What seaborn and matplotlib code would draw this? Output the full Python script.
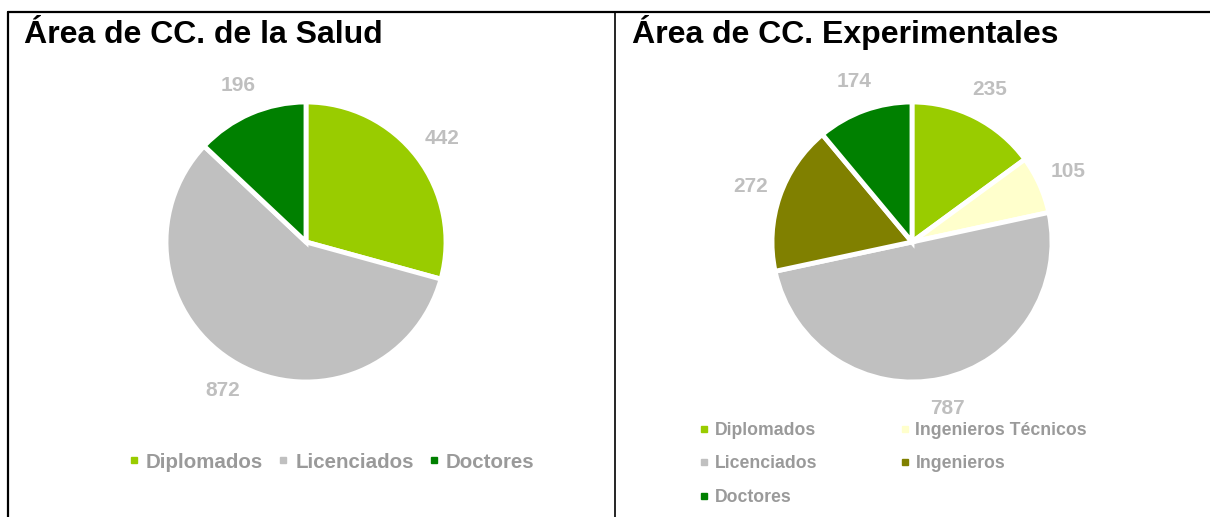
import matplotlib.pyplot as plt
import seaborn as sns
from matplotlib.lines import Line2D

# data
salud_labels = ['Diplomados', 'Licenciados', 'Doctores']
salud_values = [442, 872, 196]
salud_colors = ['#99CC00', '#C0C0C0', '#008000']

exp_labels = ['Diplomados', 'Ingenieros Técnicos', 'Licenciados', 'Ingenieros', 'Doctores']
exp_values = [235, 105, 787, 272, 174]
exp_colors = ['#99CC00', '#FFFFCC', '#C0C0C0', '#808000', '#008000']

sns.set_theme(style='white')
plt.rcParams['font.family'] = ['Liberation Sans', 'DejaVu Sans']

W, H = 1210, 517
fig = plt.figure(figsize=(W / 100, H / 100), dpi=100)

LABEL_GRAY = '#BFBFBF'
LEGEND_GRAY = '#9A9A9A'


def draw_pie(cx, cy, values, colors, r=140, half=200):
    ax = fig.add_axes([(cx - half) / W, 1 - (cy + half) / H, 2 * half / W, 2 * half / H])
    wedges, texts = ax.pie(values, colors=colors, startangle=90, counterclock=False,
                           labels=[str(v) for v in values], labeldistance=1.22,
                           wedgeprops=dict(edgecolor='white', linewidth=3.5),
                           textprops=dict(color=LABEL_GRAY, fontsize=15, fontweight='bold'))
    for t in texts:
        t.set_ha('center')
        t.set_va('center')
    lim = half / r
    ax.set_xlim(-lim, lim)
    ax.set_ylim(-lim, lim)
    ax.set_aspect('equal')
    ax.axis('off')
    return ax


draw_pie(306, 242, salud_values, salud_colors)
draw_pie(912, 242, exp_values, exp_colors)

# titles
fig.text(24 / W, 1 - 43 / H, 'Área de CC. de la Salud', fontsize=23, fontweight='bold',
         color='black', va='baseline')
fig.text(632 / W, 1 - 43 / H, 'Área de CC. Experimentales', fontsize=23, fontweight='bold',
         color='black', va='baseline')

# frame lines
for xs, ys, lw in [([8, 8], [517, 12], 1.6),
                   ([8, 1210], [12, 12], 1.6),
                   ([615, 615], [12, 517], 1.2)]:
    fig.add_artist(Line2D([x / W for x in xs], [1 - y / H for y in ys],
                          color='black', lw=lw, transform=fig.transFigure))


def handles_for(colors, ms):
    return [Line2D([], [], marker='s', linestyle='', markersize=ms, color=c) for c in colors]


# left legend
leg1 = fig.legend(handles_for(salud_colors, 5), salud_labels, loc='center',
                  bbox_to_anchor=(331 / W, 1 - 462 / H), ncol=3, frameon=False,
                  prop={'weight': 'bold', 'size': 14.8}, labelcolor=LEGEND_GRAY,
                  handlelength=0.6, handletextpad=0.3, columnspacing=0.66)

# right legend (column-wise order so rows read like the original)
order = [0, 2, 4, 1, 3]
leg2 = fig.legend(handles_for([exp_colors[i] for i in order], 4.5),
                  [exp_labels[i] for i in order], loc='center',
                  bbox_to_anchor=(893 / W, 1 - 464 / H), ncol=2, frameon=False,
                  prop={'weight': 'bold', 'size': 12.7}, labelcolor=LEGEND_GRAY,
                  handlelength=0.6, handletextpad=0.3, columnspacing=4.66,
                  labelspacing=0.95)

fig.savefig('out.png', dpi=100)
